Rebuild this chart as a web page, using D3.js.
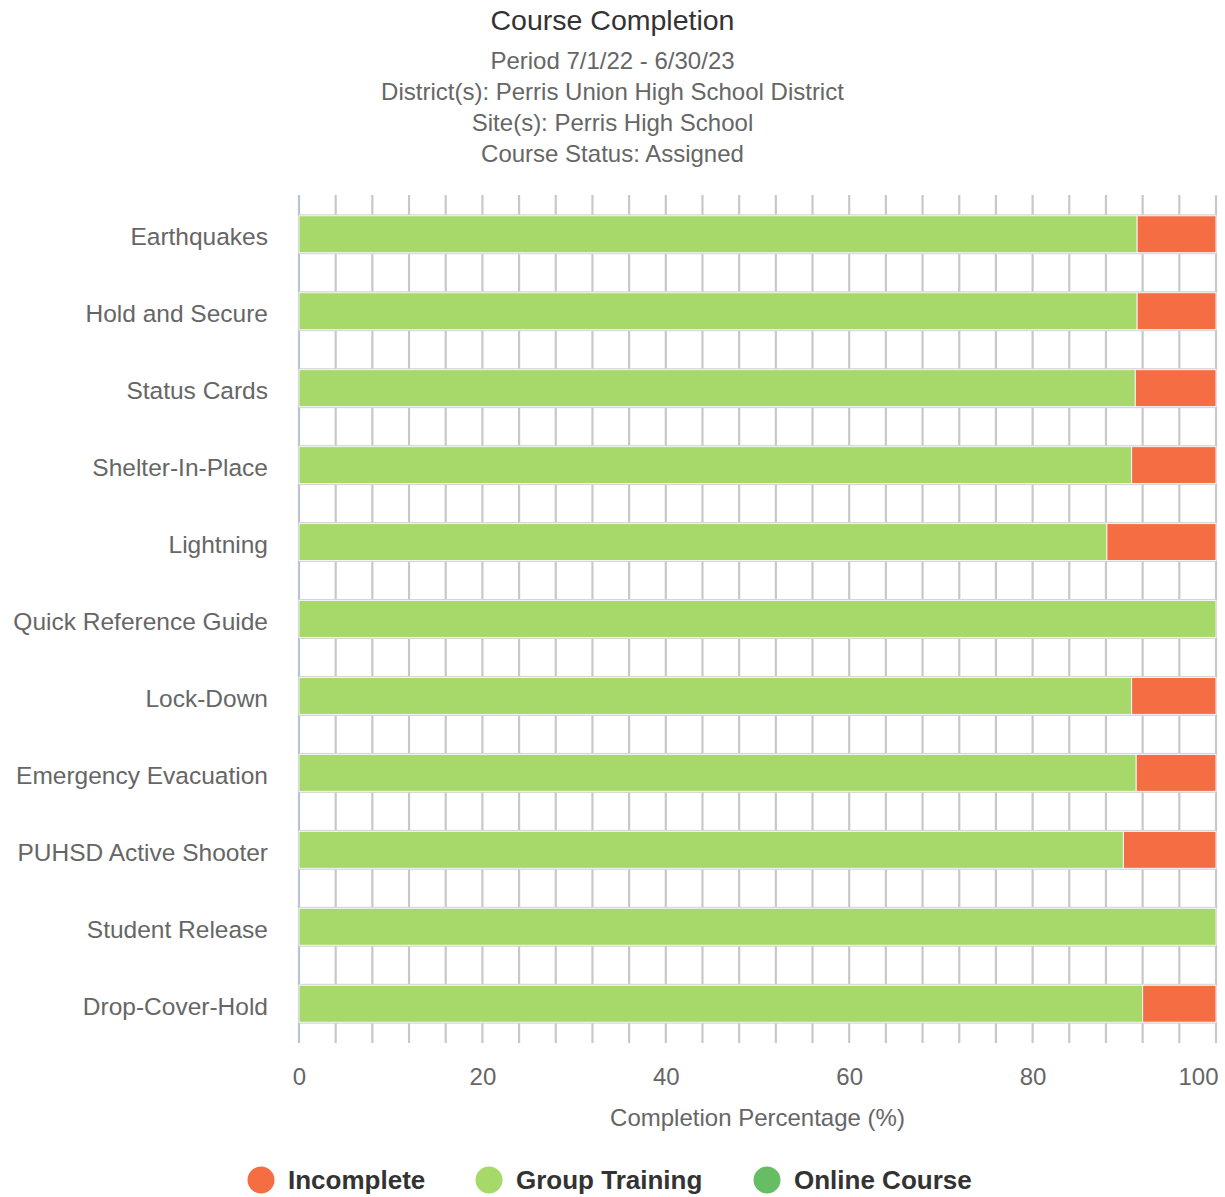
<!DOCTYPE html>
<html>
<head>
<meta charset="utf-8">
<script src="https://cdn.jsdelivr.net/npm/d3@7"></script>
<style>
html,body{margin:0;padding:0;background:#fff;}
svg{display:block;}
</style>
</head>
<body>
<svg id="chart" width="1225" height="1197"></svg>
<script>
const categories = ["Earthquakes","Hold and Secure","Status Cards","Shelter-In-Place","Lightning","Quick Reference Guide","Lock-Down","Emergency Evacuation","PUHSD Active Shooter","Student Release","Drop-Cover-Hold"];
const groupTraining = [91.4, 91.4, 91.2, 90.8, 88.1, 100, 90.8, 91.3, 89.9, 100, 92.0];
const incomplete    = [8.6, 8.6, 8.8, 9.2, 11.9, 0, 9.2, 8.7, 10.1, 0, 8.0];
const onlineCourse  = [0, 0, 0, 0, 0, 0, 0, 0, 0, 0, 0];
const xTicks = [0, 20, 40, 60, 80, 100];
const seriesNames = ["Incomplete", "Group Training", "Online Course"];
const seriesColors = ["#f46d43", "#a6d96a", "#66bd63"];
const titleText = "Course Completion";
const subtitleLines = ["Period 7/1/22 - 6/30/23", "District(s): Perris Union High School District", "Site(s): Perris High School", "Course Status: Assigned"];
const xAxisTitle = "Completion Percentage (%)";

const svg = d3.select("#chart");
const W = 1225;
const font = "'Liberation Sans', Arial, sans-serif";
const plot = {left: 299, right: 1216, top: 195, bottom: 1043};

const x = d3.scaleLinear().domain([0, 100]).range([plot.left, plot.right]);
const y = d3.scaleBand().domain(categories).range([plot.top, plot.bottom]).paddingInner(0.52).paddingOuter(0.27);

// Title
svg.append("text").attr("x", W/2).attr("y", 30).attr("text-anchor", "middle")
  .attr("font-family", font).attr("font-size", 28.5).attr("fill", "#333").text(titleText);
subtitleLines.forEach((s, i) => {
  svg.append("text").attr("x", W/2).attr("y", 69 + i*31).attr("text-anchor", "middle")
    .attr("font-family", font).attr("font-size", 24).attr("fill", "#666").text(s);
});

// vertical grid lines every 4 units
const gridVals = d3.range(0, 101, 4);
svg.append("g").selectAll("line").data(gridVals).join("line")
  .attr("x1", d => x(d)).attr("x2", d => x(d))
  .attr("y1", plot.top).attr("y2", plot.bottom)
  .attr("stroke", d => d === 0 ? "#bcc3d0" : "#c8c8c8").attr("stroke-width", 2.2);

// stacked data
const rows = categories.map((c, i) => ({cat: c, gt: groupTraining[i], oc: onlineCourse[i], inc: incomplete[i]}));

const g = svg.append("g");
rows.forEach(r => {
  const y0 = y(r.cat), h = y.bandwidth();
  const total = r.gt + r.oc + r.inc;
  g.append("rect").attr("x", x(0)).attr("y", y0 - 1.5).attr("width", x(total) - x(0)).attr("height", h + 3)
    .attr("fill", "#d4d4d4");
  const segs = [
    {v0: 0, v1: r.gt, color: seriesColors[1]},
    {v0: r.gt, v1: r.gt + r.oc, color: seriesColors[2]},
    {v0: r.gt + r.oc, v1: total, color: seriesColors[0]}
  ];
  segs.forEach(s => {
    if (s.v1 - s.v0 <= 0) return;
    g.append("rect").attr("x", x(s.v0)).attr("y", y0).attr("width", x(s.v1) - x(s.v0)).attr("height", h)
      .attr("fill", s.color).attr("stroke", "#f4f4f4").attr("stroke-width", 1);
  });
});

// Y axis labels
const yAxis = d3.axisLeft(y).tickSize(0).tickPadding(31);
const yg = svg.append("g").attr("transform", `translate(${plot.left},0)`).call(yAxis);
yg.select(".domain").remove();
yg.selectAll("text").attr("font-family", font).attr("font-size", 24.5).attr("fill", "#666").attr("dy", "0.45em");

// X axis labels
const xAxis = d3.axisBottom(x).tickValues(xTicks).tickSize(0).tickPadding(25);
const xg = svg.append("g").attr("transform", `translate(0,${plot.bottom})`).call(xAxis);
xg.select(".domain").remove();
xg.selectAll("text").attr("font-family", font).attr("font-size", 24).attr("fill", "#666");
xg.selectAll(".tick").filter(d => d === 100).select("text").attr("text-anchor", "end").attr("dx", 2);

svg.append("text").attr("x", (plot.left + plot.right)/2).attr("y", 1126).attr("text-anchor", "middle")
  .attr("font-family", font).attr("font-size", 24).attr("fill", "#666").text(xAxisTitle);

// Legend
const legendX = [261, 489, 767];
const lg = svg.append("g");
seriesNames.forEach((n, i) => {
  lg.append("circle").attr("cx", legendX[i]).attr("cy", 1180).attr("r", 13.5).attr("fill", seriesColors[i]);
  lg.append("text").attr("x", legendX[i] + 27).attr("y", 1189).attr("font-family", font)
    .attr("font-size", 26).attr("font-weight", "bold").attr("fill", "#333").text(n);
});
</script>
</body>
</html>
